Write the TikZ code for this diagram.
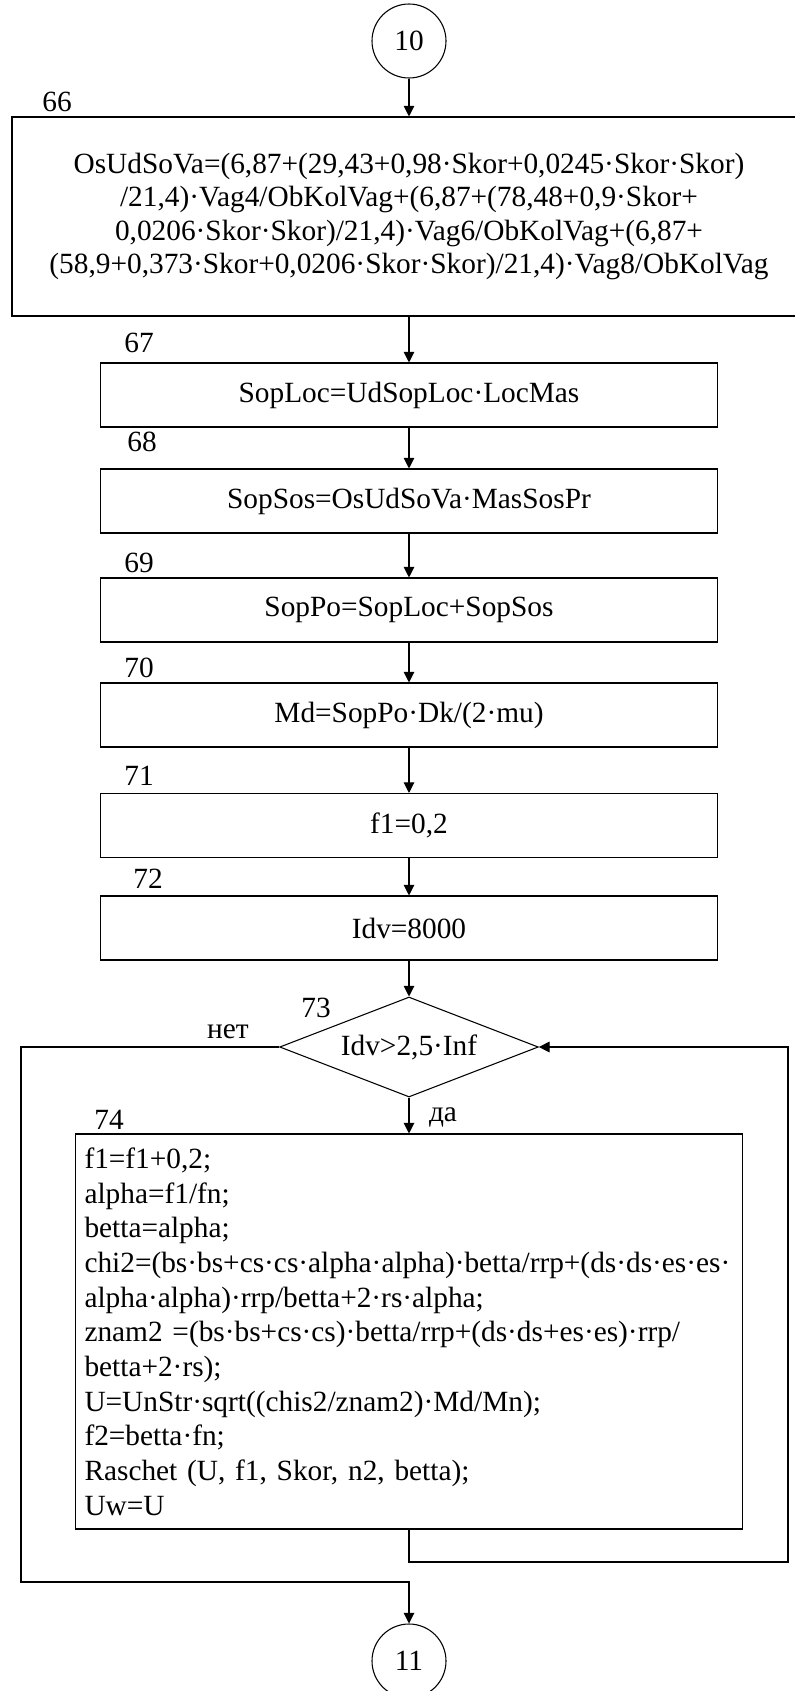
\documentclass[tikz,border=0pt]{standalone}
\usepackage{fontspec}
\setmainfont{Liberation Serif}
\usetikzlibrary{shapes.geometric,arrows.meta}

\begin{document}
\begin{tikzpicture}[x=0.75pt,y=-0.75pt,line width=0.8pt,
	every node/.style={font=\fontsize{22}{26}\selectfont, inner sep=0pt},
	blok/.style={draw, minimum width=462.75pt, minimum height=48pt},
	usl/.style={draw, diamond, aspect=2.6, minimum width=194pt, minimum height=75pt},
	krug/.style={draw, circle, minimum size=55.5pt},
	strel/.style={-{Triangle[length=8pt,width=8pt]}}]
	\useasboundingbox (0,0) rectangle (794,1691);
	% blocks
	\node [krug] (c10) at (409,41) {10};
	\node [draw, minimum width=595.5pt, minimum height=149.25pt, align=center,
		font=\fontsize{22}{25}\selectfont] (b66) at (409,216.5)
		{OsUdSoVa=(6,87+(29,43+0,98·Skor+0,0245·Skor·Skor)\\
		/21,4)·Vag4/ObKolVag+(6,87+(78,48+0,9·Skor+\\
		0,0206·Skor·Skor)/21,4)·Vag6/ObKolVag+(6,87+\\
		(58,9+0,373·Skor+0,0206·Skor·Skor)/21,4)·Vag8/ObKolVag};
	\node [blok] (b67) at (409,395) {SopLoc=UdSopLoc·LocMas};
	\node [blok] (b68) at (409,501) {SopSos=OsUdSoVa·MasSosPr};
	\node [blok] (b69) at (409,610) {SopPo=SopLoc+SopSos};
	\node [blok] (b70) at (409,715) {Md=SopPo·Dk/(2·mu)};
	\node [blok] (b71) at (409,825.5) {f1=0,2};
	\node [blok] (b72) at (409,928) {Idv=8000};
	\node [usl] (d73) at (409,1047) {Idv>2,5·Inf};
	\node [draw, minimum width=500.25pt, minimum height=296.25pt, inner xsep=6.75pt,
		text width=486.75pt, align=left] (b74) at (409,1331.5)
		{f1=f1+0,2;\\
		alpha=f1/fn;\\
		betta=alpha;\\
		chi2=(bs·bs+cs·cs·alpha·alpha)·betta/rrp+(ds·ds·es·es·\\
		alpha·alpha)·rrp/betta+2·rs·alpha;\\
		znam2 =(bs·bs+cs·cs)·betta/rrp+(ds·ds+es·es)·rrp/\\
		betta+2·rs);\\
		U=UnStr·sqrt((chis2/znam2)·Md/Mn);\\
		f2=betta·fn;\\
		Raschet (U, f1, Skor, n2, betta);\\
		Uw=U};
	\node [krug] (c11) at (409,1661) {11};
	% numbers
	\node (n66) at (57,102) {66};
	\node (n67) at (139,343) {67};
	\node (n68) at (142,442) {68};
	\node (n69) at (139,563) {69};
	\node (n70) at (139,668) {70};
	\node (n71) at (139,776) {71};
	\node (n72) at (148,879) {72};
	\node (n73) at (316,1008) {73};
	\node (n74) at (109,1120) {74};
	\node (net) at (228,1032) {нет};
	\node (da) at (443,1117) {да};
	% arrows
	\draw [strel] (c10) -- (b66);
	\draw [strel] (b66) -- (b67);
	\draw [strel] (b67) -- (b68);
	\draw [strel] (b68) -- (b69);
	\draw [strel] (b69) -- (b70);
	\draw [strel] (b70) -- (b71);
	\draw [strel] (b71) -- (b72);
	\draw [strel] (b72) -- (d73);
	\draw [strel] (d73) -- (b74);
	\coordinate (lp) at (21,1582);
	\coordinate (rp) at (788,1562);
	\draw [strel] (d73.west) -| (lp) -| (c11.north);
	\draw [strel] (b74.south) |- (rp) |- (d73.east);
\end{tikzpicture}
\end{document}
